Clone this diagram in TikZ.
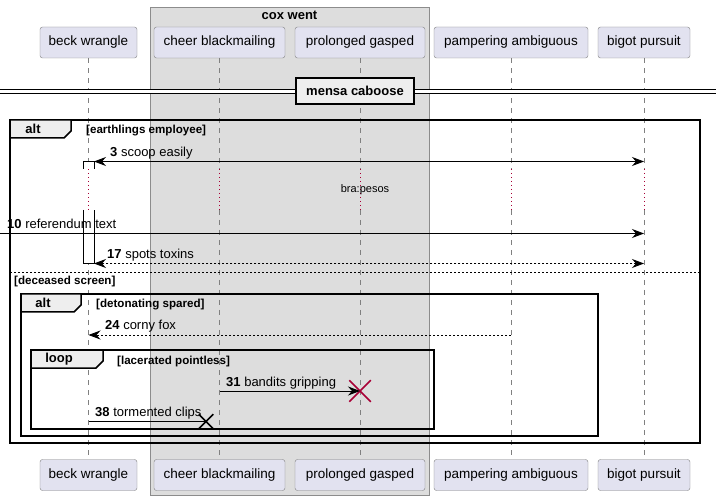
\documentclass[tikz,border=0pt]{standalone}
\usepackage{fontspec}
\setmainfont{Liberation Sans}
\usetikzlibrary{arrows.meta,shapes.misc}
\definecolor{partfill}{HTML}{E2E2F0}
\definecolor{partline}{HTML}{808080}
\definecolor{boxfill}{HTML}{DDDDDD}
\definecolor{boxline}{HTML}{8C8C8C}
\definecolor{tabfill}{HTML}{EEEEEE}
\definecolor{plred}{HTML}{A80036}
\begin{document}
\begin{tikzpicture}[x=1pt,y=-1pt,
  part/.style={draw=partline, fill=partfill, rounded corners=2.5pt, minimum height=31pt, inner sep=0pt, font=\fontsize{13.5}{16}\selectfont},
  life/.style={draw=partline, dash pattern=on 5pt off 5pt, line width=0.8pt},
  delayline/.style={draw=plred, dash pattern=on 1pt off 3pt, line width=0.8pt},
  tip/.tip={Stealth[length=12pt,width=9pt,inset=4pt]},
  msg/.style={draw=black, line width=0.9pt, -tip},
  msgboth/.style={draw=black, line width=0.9pt, tip-tip},
  ret/.style={dash pattern=on 2pt off 2pt},
  lab/.style={anchor=base west, inner sep=0pt, font=\fontsize{13}{15}\selectfont},
  cond/.style={anchor=base west, inner sep=0pt, font=\fontsize{11.6}{13}\selectfont\bfseries},
  framelab/.style={inner sep=0pt, font=\fontsize{13}{15}\selectfont\bfseries},
  frame/.style={draw=black, line width=1.5pt},
  tabshape/.style={draw=black, line width=1.5pt, fill=tabfill, line join=miter}
]
\useasboundingbox (0,0) rectangle (716,500);
\fill[white] (0,0) rectangle (716,500);

% box
\draw[draw=boxline, fill=boxfill, line width=0.8pt] (150,7) rectangle (429,495);
\node[framelab] (boxtitle) at (289.5,15) {cox went};

% participants
\node[part, minimum width=97pt]  (beck)    at (88.5,42.5) {beck wrangle};
\node[part, minimum width=131pt] (cheer)   at (219.5,42.5) {cheer blackmailing};
\node[part, minimum width=130pt] (prol)    at (360,42.5) {prolonged gasped};
\node[part, minimum width=154pt] (pamp)    at (511,42.5) {pampering ambiguous};
\node[part, minimum width=92pt]  (bigot)   at (644,42.5) {bigot pursuit};
\node[part, minimum width=97pt]  (beck-b)  at (88.5,475) {beck wrangle};
\node[part, minimum width=131pt] (cheer-b) at (219.5,475) {cheer blackmailing};
\node[part, minimum width=130pt] (prol-b)  at (360,475) {prolonged gasped};
\node[part, minimum width=154pt] (pamp-b)  at (511,475) {pampering ambiguous};
\node[part, minimum width=92pt]  (bigot-b) at (644,475) {bigot pursuit};

% lifelines
\coordinate (dlyA) at (0,169);
\coordinate (dlyB) at (0,210);
\foreach \p in {beck,cheer,prol,pamp,bigot} {
  \draw[life] (\p.south) -- (\p.south |- dlyA);
  \draw[delayline] (\p.south |- dlyA) -- (\p.south |- dlyB);
  \draw[life] (\p.south |- dlyB) -- (\p-b.north);
}

% divider
\coordinate (divL) at (0,91.5);
\coordinate (divR) at (716,91.5);
\draw[line width=0.9pt, double distance=3pt] (divL) -- (divR);
\node[draw=black, line width=2pt, fill=tabfill, minimum width=118pt, minimum height=26pt, inner sep=0pt, font=\fontsize{13}{15}\selectfont\bfseries] (div) at (355,91) {mensa caboose};

% outer alt
\draw[frame] (10,120) rectangle (700,443);
\draw[tabshape] (10,120) -- (71,120) -- (71,131) -- (64,138) -- (10,138) -- cycle;
\node[framelab] (alt1) at (33,129) {alt};
\node[cond] (c1) at (86,133.5) {[earthlings employee]};
\draw[line width=0.8pt, dash pattern=on 2pt off 2pt] (10,272) -- (700,272);
\node[cond] (c2) at (14,284) {[deceased screen]};

% inner alt
\draw[frame] (21,294) rectangle (598,436);
\draw[tabshape] (21,294) -- (81,294) -- (81,305) -- (74,312) -- (21,312) -- cycle;
\node[framelab] (alt2) at (43,303) {alt};
\node[cond] (c3) at (96,307.5) {[detonating spared]};

% loop
\draw[frame] (31,350) rectangle (434,429);
\draw[tabshape] (31,350) -- (103,350) -- (103,361) -- (96,368) -- (31,368) -- cycle;
\node[framelab] (loop1) at (59,359) {loop};
\node[cond] (c4) at (117,364) {[lacerated pointless]};

% activation
\draw[fill=white, line width=0.9pt] (83,169) -- (83,161.5) -- (94,161.5) -- (94,169);
\fill[white] (83,210) rectangle (94,263.5);
\draw[line width=0.9pt] (83,210) -- (83,263.5) -- (94,263.5) -- (94,210);

% delay text
\node[inner sep=0pt, font=\fontsize{11}{13}\selectfont] (dly) at (365,190) {bra:pesos};

% message 3
\coordinate (m3s) at (94,161.5);
\coordinate (m3e) at (644,161.5);
\draw[msgboth] (m3s) -- (m3e);
\node[lab] (l3) at (110,156.5) {\textbf{3} scoop easily};

% message 10
\coordinate (m10s) at (0,233.5);
\coordinate (m10e) at (644,233.5);
\draw[msg] (m10s) -- (m10e);
\node[lab] (l10) at (7,228.5) {\textbf{10} referendum text};

% message 17
\coordinate (m17s) at (644,263.5);
\coordinate (m17e) at (94,263.5);
\draw[msgboth, ret] (m17s) -- (m17e);
\node[lab] (l17) at (107,258.5) {\textbf{17} spots toxins};

% message 24
\coordinate (m24s) at (511,335);
\coordinate (m24e) at (88.5,335);
\draw[msg, ret] (m24s) -- (m24e);
\node[lab] (l24) at (105,330) {\textbf{24} corny fox};

% message 31
\coordinate (m31s) at (219.5,391);
\node[draw=plred, cross out, minimum size=20pt, line width=1.5pt, inner sep=0pt] (x31) at (360,391) {};
\draw[msg] (m31s) -- (x31.center);
\node[lab] (l31) at (226,386) {\textbf{31} bandits gripping};

% message 38
\coordinate (m38s) at (88.5,421.5);
\node[draw=black, cross out, minimum size=13pt, line width=1.5pt, inner sep=0pt] (x38) at (206,421.5) {};
\draw[line width=0.9pt] (m38s) -- (x38.center);
\node[lab] (l38) at (95,416) {\textbf{38} tormented clips};
\end{tikzpicture}
\end{document}
